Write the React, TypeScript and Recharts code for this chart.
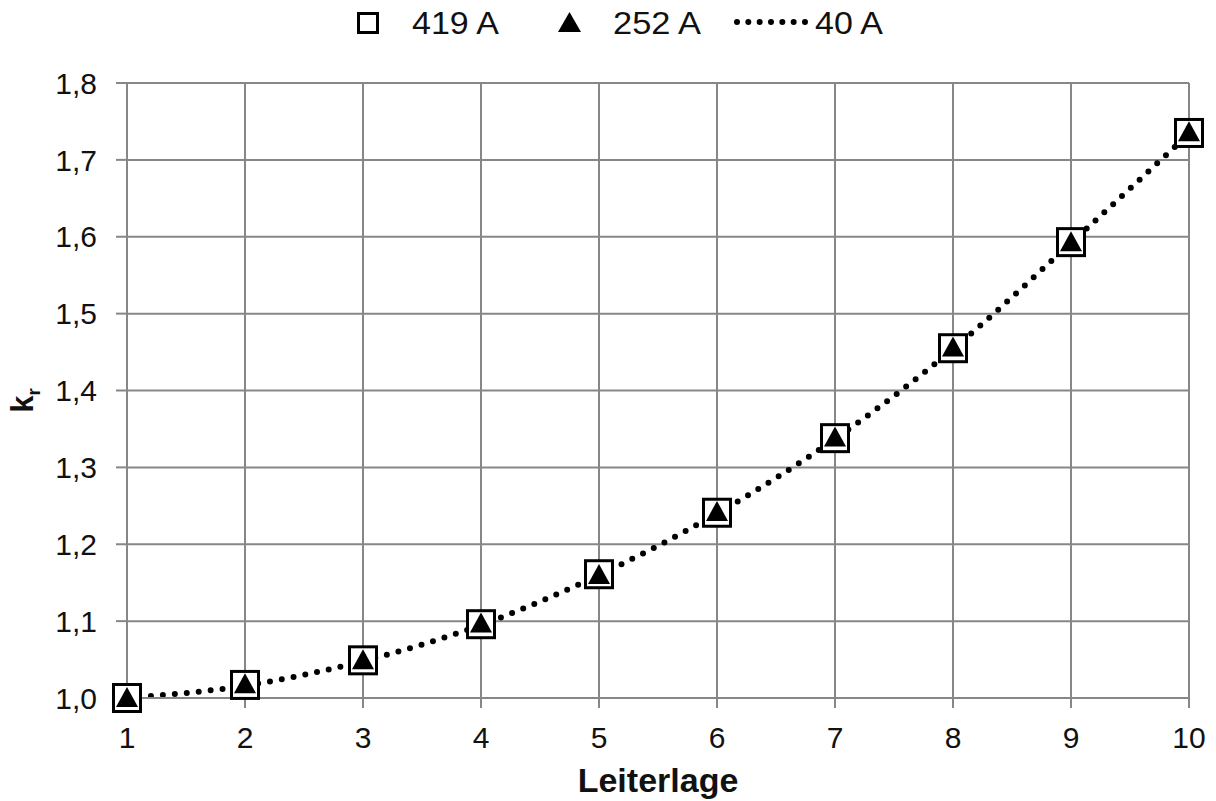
import { ReactNode } from 'react';
import {
  ComposedChart,
  Line,
  XAxis,
  YAxis,
  CartesianGrid,
  Legend,
} from 'recharts';

// Leiterlage (x) und k_r Werte je Strom
const leiterlage = [1, 2, 3, 4, 5, 6, 7, 8, 9, 10];
const kr419 = [1.0, 1.017, 1.049, 1.096, 1.161, 1.241, 1.338, 1.455, 1.593, 1.735];
const kr252 = [1.0, 1.018, 1.049, 1.097, 1.16, 1.242, 1.339, 1.456, 1.593, 1.736];
const kr40 = [1.0, 1.016, 1.048, 1.095, 1.16, 1.24, 1.337, 1.454, 1.592, 1.734];
const yTicks = [1.0, 1.1, 1.2, 1.3, 1.4, 1.5, 1.6, 1.7, 1.8];

const data = leiterlage.map((x, i) => ({
  x,
  a419: kr419[i],
  a252: kr252[i],
  a40: kr40[i],
}));

const FONT = '"Liberation Sans", Arial, sans-serif';
const GRID = '#878787';

const SquareDot = (props: any) => {
  const { cx, cy, index } = props;
  if (cx == null || cy == null) return <g key={index} />;
  return (
    <rect
      key={index}
      x={cx - 13.5}
      y={cy - 13.5}
      width={27}
      height={27}
      fill="#fff"
      stroke="#000"
      strokeWidth={3}
    />
  );
};

const TriangleDot = (props: any) => {
  const { cx, cy, index } = props;
  if (cx == null || cy == null) return <g key={index} />;
  return (
    <polygon
      key={index}
      points={`${cx},${cy - 11} ${cx + 11},${cy + 9} ${cx - 11},${cy + 9}`}
      fill="#000"
    />
  );
};

// Legende wie im Original: Symbol + Text, nebeneinander
const LegendContent = (): ReactNode => (
  <svg width={1216} height={44} style={{ display: 'block' }}>
    <g fontFamily={FONT} fontSize={31} fill="#111">
      <rect x={358.5} y={13.5} width={19} height={19} fill="#fff" stroke="#000" strokeWidth={3} />
      <text x={412} y={34} textLength={87} lengthAdjust="spacingAndGlyphs">419 A</text>
      <polygon points="569.5,12 581,32 558,32" fill="#000" />
      <text x={613} y={34} textLength={88} lengthAdjust="spacingAndGlyphs">252 A</text>
      <line
        x1={737}
        y1={22}
        x2={805}
        y2={22}
        stroke="#000"
        strokeWidth={6}
        strokeDasharray="0 11.33"
        strokeLinecap="round"
      />
      <text x={815} y={34} textLength={68} lengthAdjust="spacingAndGlyphs">40 A</text>
    </g>
  </svg>
);

const XLabel = (props: any) => {
  const vb = props.viewBox || { x: 127, y: 698, width: 1062 };
  return (
    <text
      x={vb.x + vb.width / 2}
      y={vb.y + 94}
      textAnchor="middle"
      fontFamily={FONT}
      fontSize={34}
      fontWeight="bold"
      fill="#111"
    >
      Leiterlage
    </text>
  );
};

const YLabel = (props: any) => {
  const vb = props.viewBox || { x: 0, y: 83, height: 615 };
  const cx = vb.x + 33;
  const cy = vb.y + vb.height / 2 + 10;
  return (
    <text
      transform={`translate(${cx},${cy}) rotate(-90)`}
      textAnchor="middle"
      fontFamily={FONT}
      fontSize={31}
      fontWeight="bold"
      fill="#111"
    >
      k
      <tspan fontSize={19} dy={7}>
        r
      </tspan>
    </text>
  );
};

const tickStyle = { fill: '#111', fontSize: 30, fontFamily: FONT };

export default function App() {
  return (
    <div style={{ position: 'absolute', left: 0, top: 0, background: '#fff' }}>
      <ComposedChart
        width={1216}
        height={801}
        data={data}
        margin={{ top: 39, right: 27, left: 0, bottom: 3 }}
      >
        <CartesianGrid stroke={GRID} strokeWidth={2} />
        <XAxis
          dataKey="x"
          type="number"
          domain={[1, 10]}
          ticks={leiterlage}
          interval={0}
          height={100}
          tickSize={10}
          tickMargin={19}
          stroke={GRID}
          strokeWidth={2}
          tick={tickStyle}
          label={<XLabel />}
        />
        <YAxis
          type="number"
          domain={[1, 1.8]}
          ticks={yTicks}
          interval={0}
          width={127}
          tickSize={11}
          tickMargin={19}
          stroke={GRID}
          strokeWidth={2}
          tick={tickStyle}
          tickFormatter={(v: number) => v.toFixed(1).replace('.', ',')}
          label={<YLabel />}
        />
        <Legend
          verticalAlign="top"
          height={44}
          wrapperStyle={{ top: 0, left: 0, width: 1216 }}
          content={LegendContent}
        />
        <Line
          dataKey="a419"
          name="419 A"
          stroke="none"
          dot={SquareDot}
          activeDot={false}
          isAnimationActive={false}
        />
        <Line
          dataKey="a252"
          name="252 A"
          stroke="none"
          dot={TriangleDot}
          activeDot={false}
          isAnimationActive={false}
        />
        <Line
          dataKey="a40"
          name="40 A"
          type="monotone"
          stroke="#000"
          strokeWidth={6}
          strokeDasharray="0 12"
          strokeLinecap="round"
          dot={false}
          activeDot={false}
          isAnimationActive={false}
        />
      </ComposedChart>
    </div>
  );
}
